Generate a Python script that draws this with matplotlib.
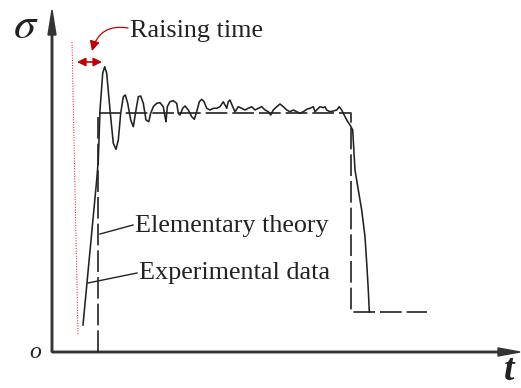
import numpy as np
import matplotlib.pyplot as plt

# schematic units: t in px-like time units from the origin, sigma up from the t axis
theory_t = [46, 46, 299, 299, 375]
theory_s = [0, 239, 239, 40, 40]

exp_t = [31, 44.7, 46.3, 48, 50.7, 52.7, 54.7, 58, 61.3, 64, 66.3, 68.7, 71.3, 73.3,
         75.7, 78.7, 81.3, 84, 86.3, 88.7, 91.3, 94, 96.7, 98.7, 101.3, 104.7, 108,
         111.3, 113, 114, 115.3, 118, 121.3, 124.7, 126.3, 128, 130.7, 133, 136.3,
         139.7, 142.3, 144.7, 147.3, 149.7, 152, 154.7, 158, 161.3, 164.7, 168,
         171.3, 173, 174.7, 176.3, 178, 180.7, 183, 186.3, 189.7, 193, 196.3, 199.7,
         203, 206.3, 209.7, 213, 216.3, 218.7, 221.3, 224.7, 228, 231.3, 234.7, 238,
         241.3, 244.7, 248, 251.3, 254.7, 258, 261.3, 263, 264.7, 268, 271.3, 273,
         274.7, 278, 281.3, 284.7, 287.3, 289.7, 291.3, 294.7, 298, 300.7, 303,
         306.3, 309.7, 313, 314.7, 316.3, 317.3]
exp_s = [27, 172, 192, 242, 278.7, 285.3, 278.7, 242, 208.7, 202.7, 212, 238.7, 255.3,
         257, 248.7, 232, 225.3, 242, 255.3, 256, 248.7, 232, 230.3, 238.7, 245.3,
         248.7, 249.3, 245.3, 235.3, 230.3, 245.3, 250.3, 251.3, 248.7, 238.7, 237,
         243.7, 246, 242, 235.3, 232.7, 240.3, 250.3, 252.7, 250.3, 243.7, 242,
         243.7, 243.7, 245.3, 250.3, 247, 243.7, 250.3, 252, 245.3, 240.3, 245.3,
         243.7, 242, 243.7, 245.3, 242, 243.7, 245.3, 242, 240.3, 237, 242, 245.3,
         248, 245.3, 242, 240.3, 242, 240.3, 238.7, 240.3, 242.7, 243.7, 245.3,
         240.3, 242, 245.3, 244.3, 245.3, 242, 240.3, 241, 242, 245.3, 242, 238.7,
         232, 227, 222, 182, 162, 142, 115.3, 89, 62, 40.3]

rise_start, rise_end = 25, 50   # raising-time window
labels = ["Raising time", "Elementary theory", "Experimental data"]

INK = "#222222"
RED = "#c00000"
SERIF = "Liberation Serif"

fig = plt.figure(figsize=(5.21, 3.88), dpi=100)
ax = fig.add_axes([0, 0, 1, 1])
ax.set_xlim(-52, 469)
ax.set_ylim(-36, 352)
ax.axis("off")

# axes with arrow heads
ax.arrow(0, 0, 0, 342, width=1.5, head_width=8, head_length=25,
         length_includes_head=True, color="#333333")
ax.arrow(0, 0, 468, 0, width=1.5, head_width=8, head_length=22,
         length_includes_head=True, color="#333333")

# curves
ax.plot(theory_t, theory_s, color=INK, lw=1.2, dashes=(13, 3))
ax.plot(exp_t, exp_s, color=INK, lw=1.15, solid_joinstyle="round")

# raising-time marks
ax.plot([20, 26], [310, 17], color="red", lw=0.7, ls=":")
ax.annotate("", xy=(rise_end, 290), xytext=(rise_start, 290),
            arrowprops=dict(arrowstyle="<|-|>,head_length=0.5,head_width=0.25",
                            color=RED, lw=1.2, shrinkA=0, shrinkB=0))
ax.annotate("", xy=(40, 301), xytext=(76, 324),
            arrowprops=dict(arrowstyle="-|>,head_length=0.6,head_width=0.3",
                            color=RED, lw=0.9, shrinkA=0, shrinkB=0,
                            connectionstyle="arc3,rad=0.45"))
ax.text(78, 315, labels[0], family=SERIF, fontsize=18.8, color=INK, va="baseline")

# leader lines for labels
ax.plot([48, 81], [118, 127], color=INK, lw=1.0)
ax.text(83, 120, labels[1], family=SERIF, fontsize=18.8, color=INK, va="baseline")
ax.plot([36, 85], [69, 79], color=INK, lw=1.0)
ax.text(87, 73, labels[2], family=SERIF, fontsize=18.8, color=INK, va="baseline")

# axis symbols
ax.text(-26, 314, r"$\sigma$", math_fontfamily="stix", fontsize=32, color=INK,
        ha="center", va="baseline")
ax.text(-17, -1, "o", family=SERIF, style="italic", fontsize=17, color=INK,
        ha="center", va="center")
ax.text(457, -18, "t", family=SERIF, style="italic", weight="bold", fontsize=27,
        color=INK, ha="center", va="center")

fig.savefig("out.png", dpi=100)
